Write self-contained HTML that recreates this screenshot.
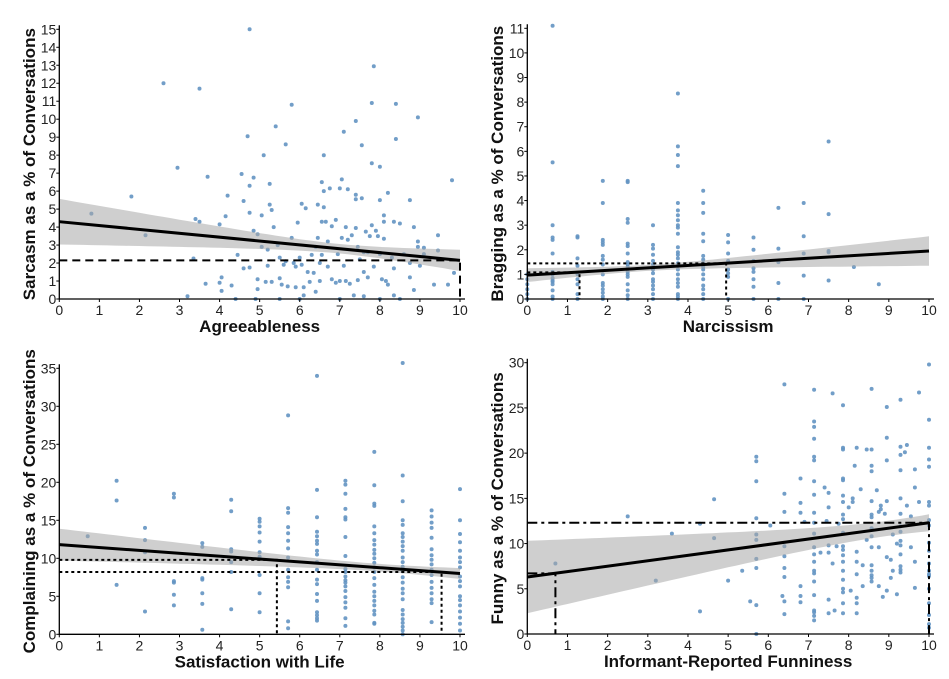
<!DOCTYPE html>
<html><head><meta charset="utf-8"><style>
html,body{margin:0;padding:0;background:#fff}
svg{display:block;font-family:"Liberation Sans",Arial,sans-serif}
.tk{font-size:14px;fill:#222}
.ttl{font-size:17px;font-weight:bold;fill:#111}
</style></head><body>
<svg id="chart" width="949" height="679" viewBox="0 0 949 679"></svg>
<script>
// ---------- DATA ----------
const p1Points=[[0.8,4.75],[1.8,5.7],[2.15,3.55],[2.6,12],[2.95,7.3],[3.2,0.15],[3.35,2.25],[3.4,4.45],[3.5,11.7],[3.5,4.3],[3.7,6.8],[3.65,0.85],[4.0,4.15],[4.0,0.9],[4.05,1.2],[4.05,0.45],[4.15,4.6],[4.2,5.75],[4.3,0.75],[4.4,0],[4.45,2.45],[4.55,6.95],[4.6,5.45],[4.6,1.7],[4.7,9.05],[4.75,6.3],[4.75,4.8],[4.75,15],[4.75,1.75],[4.85,6.75],[4.85,3.8],[4.95,3.6],[4.95,1.1],[4.95,0.55],[5.05,4.65],[5.05,2.9],[5.1,8],[5.15,0.95],[5.2,2.75],[5.2,1.85],[5.25,6.4],[5.25,5.25],[5.3,4.95],[5.3,0.95],[5.35,4.0],[5.4,9.6],[5.45,3.0],[5.5,2.3],[5.5,1.15],[5.55,0.8],[5.6,1.9],[5.65,8.6],[5.65,2.1],[5.7,0.7],[5.8,10.8],[5.8,3.4],[5.85,2.0],[5.9,0.65],[5.95,4.25],[6.0,2.3],[6.05,5.3],[6.05,1.9],[6.1,0.65],[6.1,0.2],[6.15,5.05],[6.2,1.5],[6.25,0.95],[6.3,2.45],[6.35,1.45],[6.4,0.4],[6.45,5.25],[6.45,3.4],[6.5,2.0],[6.5,1.0],[6.55,6.5],[6.55,4.3],[6.55,2.45],[6.6,8.0],[6.6,6.0],[6.6,5.1],[6.65,4.3],[6.7,3.2],[6.7,1.8],[6.75,6.15],[6.8,4.05],[6.8,1.1],[6.9,4.4],[6.95,2.5],[7.0,6.15],[7.0,1.0],[7.05,6.65],[7.05,3.4],[7.1,9.3],[7.1,1.85],[7.15,4.0],[7.15,1.0],[7.2,6.1],[7.2,3.3],[7.25,0.85],[7.3,3.55],[7.35,0.2],[7.4,9.9],[7.4,5.8],[7.4,5.55],[7.4,3.95],[7.45,2.9],[7.45,1.05],[7.5,2.2],[7.55,8.55],[7.55,5.6],[7.6,1.5],[7.6,0.15],[7.65,3.75],[7.7,2.6],[7.7,1.2],[7.75,3.5],[7.8,10.9],[7.8,7.55],[7.8,4.1],[7.85,1.8],[7.85,12.95],[7.9,3.8],[7.95,3.5],[8.0,7.35],[8.0,5.5],[8.0,2.5],[8.05,1.1],[8.1,4.65],[8.1,4.3],[8.1,3.35],[8.15,1.0],[8.2,5.9],[8.2,0.8],[8.35,4.3],[8.35,1.7],[8.35,0.2],[8.4,10.85],[8.4,8.9],[8.5,4.2],[8.5,0],[8.6,2.5],[8.75,5.5],[8.75,2.0],[8.75,1.2],[8.85,4.0],[8.85,0.5],[8.95,10.1],[8.95,3.2],[8.95,2.9],[9.0,1.85],[9.1,2.85],[9.1,2.5],[9.35,0.8],[9.45,3.55],[9.45,2.7],[9.7,0.8],[9.8,6.6],[9.85,1.45],[5.5,0],[6.0,0],[7.0,0],[8.0,0],[4.9,0],[6.9,0.9],[7.6,2.6],[8.3,2.3],[5.9,1.8],[6.4,2.9]];
const p2Cols=[
[0,[0,0.2,0.4,0.6,0.8,1.0]],
[0.63,[11.1,5.55,3.0,2.5,2.4,1.85,1.1,1.0,0.85,0.75,0.7,0.6,0.35,0.1,0]],
[1.25,[2.55,2.5,1.65,1.35,1.0,0.8,0.6,0.2,0]],
[1.88,[4.8,3.9,2.4,2.3,2.2,1.75,1.6,1.4,1.0,0.65,0.55,0.4,0.25,0.1,0]],
[2.5,[4.8,4.75,3.25,3.1,2.25,2.15,1.85,1.5,1.4,1.3,1.1,1.0,0.9,0.6,0.35,0.15,0]],
[3.13,[3.0,2.2,2.05,1.8,1.55,1.4,1.2,1.05,0.8,0.7,0.55,0.4,0.2,0]],
[3.75,[8.35,6.2,5.85,5.4,3.9,3.6,3.4,3.2,3.0,2.9,2.65,2.1,1.9,1.8,1.65,1.45,1.2,1.0,0.8,0.65,0.5,0.2,0.1,0]],
[4.38,[4.4,3.9,3.5,2.65,2.35,1.75,1.6,1.45,1.3,1.2,1.0,0.8,0.55,0.4,0.2,0]],
[5.0,[2.6,2.3,1.85,1.55,1.2,1.05,0.9,0]],
[5.63,[2.5,2.0,1.55,1.25,1.1,0.8,0.5,0]],
[6.25,[3.7,2.05,1.5,0.65,0]],
[6.88,[3.9,2.55,1.85,0.95,0]],
[7.5,[6.4,3.45,1.95,1.9,0.75]],
[8.13,[1.3]],
[8.75,[0.6]]];
const p3Cols=[
[0.71,[12.9]],
[1.43,[20.2,17.6,6.5]],
[2.14,[14,12.4,10.8,3]],
[2.86,[18.5,18,7,6.8,5.2,3.8]],
[3.57,[12,11.5,7.4,7.2,5.4,4,0.6]],
[4.29,[17.7,16.2,11.2,10.9,9.5,8.2,3.3]],
[5.0,[15.2,14.8,14.2,13.4,12.2,10.8,10.2,7.8,5.4,2.9]],
[5.71,[28.8,16.6,16,14.1,13.3,12.3,11.3,10.1,8.5,7.5,6.9,6.2,1.7,0.8]],
[6.43,[34,19,15.4,13.5,12.9,12.3,11.9,11,10.5,9.5,8.5,7.2,6.6,5.3,4.4,2.9,2.5,2.1,1.8]],
[7.14,[20.2,19.7,18.5,16.5,15.4,15.1,12.8,10.3,8.6,8.2,7.6,7.1,6.8,6.3,5.7,4.9,4.2,3.5,2.1,1.1]],
[7.86,[24,19.6,17.2,16.9,14.2,13.3,12.4,11.8,11.1,10.6,10,9.4,8.8,8.2,7.4,6.5,5.6,5,4.4,3.8,3.1,2.6,1.5,1.4]],
[8.57,[35.7,20.9,17.5,15,14.4,13.3,12.8,12.2,11.6,11,10.1,9.5,8.9,8.3,7.5,6.8,6,5.4,4.6,3.2,2.6,2,1.5,1,0.5,0]],
[9.29,[16.3,15.5,14.7,14,12.7,11.2,10.4,9.8,9.2,8.5,7.8,6.9,6.1,5.4,4.6,4.1,1.6]],
[10,[19.1,15,13.2,12.1,11,10.1,9.5,8.8,7.6,7,6.3,5,4.5,3.8,3,2.2,1.4,0.5]]];
const p4Points=[[0.7,7.8],[2.5,13],[3.2,5.9],[3.6,11.1],[4.3,12.2],[4.3,2.5],[4.65,14.9],[4.65,10.6],[5.0,5.9],[5.35,7],[5.55,3.6],[5.7,19.6],[5.7,19.1],[5.7,16.9],[5.7,12.8],[5.7,11],[5.7,10.4],[5.7,8.3],[5.7,7.3],[5.7,3.2],[5.7,0],[6.05,12],[6.35,4.2],[6.4,27.6],[6.4,15.5],[6.4,13.5],[6.4,9.7],[6.4,8.6],[6.4,7.3],[6.4,6.3],[6.4,3.6],[6.4,2.2],[6.8,17.2],[6.8,14.5],[6.8,13.4],[6.8,5.3],[6.8,4.2],[6.8,3.5],[6.9,12.4],[7.3,9],[7.4,16.2],[7.45,12.5],[7.5,15.6],[7.5,14],[7.5,9.8],[7.5,9],[7.5,3.8],[7.5,2.3],[7.6,26.6],[7.6,7.8],[7.65,2.6],[7.7,9.7],[7.75,12.2],[8.0,14],[8.05,4.8],[8.1,15],[8.1,14.6],[8.15,18.6],[8.2,20.6],[8.2,9.1],[8.2,8],[8.2,6.6],[8.2,4],[8.2,3.4],[8.2,2.3],[8.3,16],[8.35,7.6],[8.35,5.3],[8.45,20.4],[8.45,10.4],[8.7,15.9],[8.75,13.5],[8.75,9.6],[8.75,5.3],[8.8,14.2],[8.8,13.8],[8.85,4.1],[8.9,13.3],[8.95,25.1],[8.95,21.7],[8.95,19.2],[8.95,14.7],[8.95,8.5],[8.95,4.8],[9.05,8.2],[9.05,6.2],[9.1,7],[9.1,11],[9.2,4.4],[9.2,10],[9.4,20.1],[9.45,20.9],[9.45,14.2],[9.55,9.6],[9.55,13],[9.65,16.2],[9.65,18.2],[9.65,8],[9.65,5.1],[9.75,26.7],[9.75,14.6]];
const p4Cols=[
[7.14,[27,23.5,22.9,21.6,19.6,19.2,16.9,15.4,13.4,12.3,11.1,9.6,8.8,8,7,6.7,5.8,4.3,2.6,2.4,2,1.5]],
[7.86,[25.3,20.6,20.4,17.2,17,15.3,14.6,13.2,12.7,11.2,9.7,9.3,8.7,8,7,6,5,4.6,3.4,2.3]],
[8.57,[27.1,20.4,18.6,18,14.7,13.2,12.9,11.7,10.8,9.6,7.6,7,6.5,6.2,5.8]],
[9.29,[25.9,20.7,19.8,18.1,15,13.3,11.9,11.3,10.3,9.8,8.8,7.5,7.1,6.8]],
[10,[29.8,23.7,20.6,19.3,18.5,14.6,14.2,12.6,12,10.1,9.2,7.8,7,6.6,6.4,5,3.4,2.1,1.1,0.7]]];
const xTicks=[0,1,2,3,4,5,6,7,8,9,10];
const p1YTicks=[0,1,2,3,4,5,6,7,8,9,10,11,12,13,14,15];
const p2YTicks=[0,1,2,3,4,5,6,7,8,9,10,11];
const p3YTicks=[0,5,10,15,20,25,30,35];
const p4YTicks=[0,5,10,15,20,25,30];
// fit: [intercept, slope], band: [centre, minHalfWidthSq, curvature]
const p1Fit=[4.3,-0.215], p1Band=[7,0.07,0.0314];
const p2Fit=[0.97,0.098], p2Band=[3,0.015,0.007];
const p3Fit=[11.8,-0.38], p3Band=[8,0.25,0.065];
const p4Fit=[6.3,0.6], p4Band=[9,0.7,0.189];
// reference guide lines: [yValue, xValue]
const p1Refs=[[2.15,10]];
const p2Refs=[[1.08,1.3],[1.45,4.95]];
const p3Refs=[[9.8,5.43],[8.2,9.54]];
const p4Refs=[[12.3,10],[6.7,0.7]];

// ---------- DRAW ----------
const NS='http://www.w3.org/2000/svg';
const svg=document.getElementById('chart');
function mk(tag,attrs,parent){const e=document.createElementNS(NS,tag);for(const k in attrs)e.setAttribute(k,attrs[k]);(parent||svg).appendChild(e);return e;}
function colsToPts(cols){const r=[];cols.forEach(c=>c[1].forEach(y=>r.push([c[0],y])));return r;}

function panel(cfg){
  const g=mk('g',{});
  
  
  const sx=v=>cfg.x0+(cfg.x1-cfg.x0)*v/10;
  const sy=v=>cfg.y0-(cfg.y0-cfg.yTop)*v/cfg.yMax;
  const pg=mk('g',{},g);
  
  
  cfg.points.forEach(p=>{
    const c=mk('circle',{cx:sx(p[0]).toFixed(1),cy:sy(p[1]).toFixed(1),r:2,fill:'#6393c2','fill-opacity':0.9},pg);
    
    
  });
  const b=cfg.band,f=cfg.fit;let up=[],lo=[];
  for(let i=0;i<=50;i++){const x=i/5;const h=Math.sqrt(b[1]+b[2]*(x-b[0])*(x-b[0]));const yc=f[0]+f[1]*x;
    up.push(sx(x).toFixed(1)+','+sy(yc+h).toFixed(1));lo.unshift(sx(x).toFixed(1)+','+sy(Math.max(0,yc-h)).toFixed(1));}
  const band=mk('polygon',{points:up.concat(lo).join(' '),fill:'#a8a8a8','fill-opacity':0.55},g);
  
  
  const ln=mk('line',{x1:sx(0),y1:sy(f[0]),x2:sx(10),y2:sy(f[0]+f[1]*10),stroke:'#000','stroke-width':3},g);
  
  
  cfg.refs.forEach(r=>{
    const pl=mk('polyline',{points:`${sx(0)},${sy(r[0])} ${sx(r[1])},${sy(r[0])} ${sx(r[1])},${sy(0)}`,fill:'none',stroke:'#000','stroke-width':2,'stroke-dasharray':cfg.dash},g);
    
    
  });
  const ax=mk('path',{d:`M${cfg.x0},${cfg.yTop-4}V${cfg.y0}H${cfg.x1+5}`,fill:'none',stroke:'#000','stroke-width':1.3},g);
  
  
  xTicks.forEach(t=>{
    mk('line',{x1:sx(t),x2:sx(t),y1:cfg.y0,y2:cfg.y0+3,stroke:'#000'},g);
    const tx=mk('text',{x:sx(t),y:cfg.y0+16,'text-anchor':'middle',class:'tk'},g);tx.textContent=t;
    
    
  });
  cfg.yTicks.forEach(t=>{
    mk('line',{x1:cfg.x0-3,x2:cfg.x0,y1:sy(t),y2:sy(t),stroke:'#000'},g);
    const tx=mk('text',{x:cfg.x0-3,y:sy(t)+5,'text-anchor':'end',class:'tk'},g);tx.textContent=t;
    
    
  });
  const xt=mk('text',{x:(cfg.x0+cfg.x1)/2,y:cfg.y0+33,'text-anchor':'middle',class:'ttl'},g);xt.textContent=cfg.xTitle;
  
  
  const yc=(cfg.y0+cfg.yTop)/2;
  const yt=mk('text',{x:cfg.yTitleX,y:yc,'text-anchor':'middle',class:'ttl',transform:`rotate(-90 ${cfg.yTitleX} ${yc})`},g);yt.textContent=cfg.yTitle;
  
  
}

panel({name:'sarcasm-panel',x0:59.3,x1:460,y0:299,yTop:29.3,yMax:15,yTicks:p1YTicks,points:p1Points,fit:p1Fit,band:p1Band,refs:p1Refs,dash:'8,5',xTitle:'Agreeableness',yTitle:'Sarcasm as a % of Conversations',yTitleX:35});
panel({name:'bragging-panel',x0:527.3,x1:929,y0:299,yTop:28.3,yMax:11,yTicks:p2YTicks,points:colsToPts(p2Cols),fit:p2Fit,band:p2Band,refs:p2Refs,dash:'3,3',xTitle:'Narcissism',yTitle:'Bragging as a % of Conversations',yTitleX:503});
panel({name:'complaining-panel',x0:59.3,x1:460,y0:634.3,yTop:368.3,yMax:35,yTicks:p3YTicks,points:colsToPts(p3Cols),fit:p3Fit,band:p3Band,refs:p3Refs,dash:'3,3',xTitle:'Satisfaction with Life',yTitle:'Complaining as a % of Conversations',yTitleX:35});
panel({name:'funny-panel',x0:527.3,x1:929,y0:634,yTop:362.7,yMax:30,yTicks:p4YTicks,points:p4Points.concat(colsToPts(p4Cols)),fit:p4Fit,band:p4Band,refs:p4Refs,dash:'10,4,3,4',xTitle:'Informant-Reported Funniness',yTitle:'Funny as a % of Conversations',yTitleX:503});
</script>
</body></html>
